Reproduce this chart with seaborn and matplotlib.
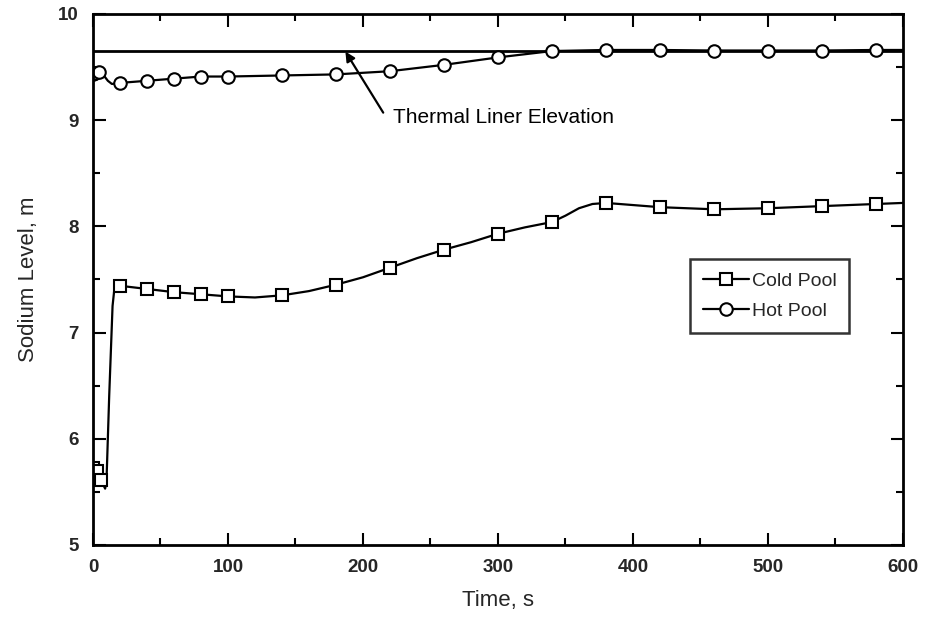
import matplotlib
matplotlib.use("Agg")
import matplotlib.pyplot as plt
import seaborn as sns
import pandas as pd
from matplotlib.lines import Line2D
from matplotlib.ticker import MultipleLocator

sns.set_theme(style="white")
plt.rcParams['font.family'] = ['Liberation Sans', 'DejaVu Sans']

# ---- data ----
cold_t = [0, 3, 6, 9, 10, 12, 14.5, 16, 20, 40, 60, 80, 100, 120, 140, 160, 180, 200,
          220, 240, 260, 280, 300, 320, 340, 350, 360, 370, 380, 400, 420, 440, 460,
          480, 500, 520, 540, 560, 580, 600]
cold_y = [5.72, 5.70, 5.61, 5.53, 5.60, 6.40, 7.25, 7.43, 7.44, 7.41, 7.38, 7.36, 7.34,
          7.33, 7.35, 7.39, 7.45, 7.52, 7.61, 7.70, 7.78, 7.85, 7.93, 7.99, 8.04, 8.10,
          8.17, 8.21, 8.22, 8.20, 8.18, 8.17, 8.16, 8.165, 8.17, 8.18, 8.19, 8.20, 8.21,
          8.22]
cold_marks = [0, 1, 2, 8, 9, 10, 11, 12, 14, 16, 18, 20, 22, 24, 28, 30, 32, 34, 36, 38]

hot_t = [0, 1.5, 4.5, 8, 11, 14, 20, 40, 60, 80, 100, 140, 180, 220, 260, 300, 320,
         340, 380, 420, 460, 500, 540, 580, 600]
hot_y = [9.43, 9.44, 9.45, 9.42, 9.37, 9.34, 9.35, 9.37, 9.39, 9.41, 9.41, 9.42, 9.43,
         9.46, 9.52, 9.59, 9.62, 9.65, 9.66, 9.66, 9.655, 9.655, 9.655, 9.66, 9.66]
hot_marks = [0, 1, 2, 6, 7, 8, 9, 10, 11, 12, 13, 14, 15, 17, 18, 19, 20, 21, 22, 23]

liner_t = [0, 600]
liner_y = [9.655, 9.655]

series_names = ["Cold Pool", "Hot Pool"]
annotation_text = "Thermal Liner Elevation"
arrow_head = (187, 9.645)
arrow_tail = (215, 9.07)
text_pos = (222, 9.02)

# ---- figure ----
fig = plt.figure(figsize=(9.28, 6.30), dpi=100)
ax = fig.add_axes([0.1002, 0.135, 0.8728, 0.843])

cold_df = pd.DataFrame({"t": cold_t, "y": cold_y})
hot_df = pd.DataFrame({"t": hot_t, "y": hot_y})
liner_df = pd.DataFrame({"t": liner_t, "y": liner_y})

sns.lineplot(data=liner_df, x="t", y="y", ax=ax, color="black", lw=2.0,
             estimator=None, sort=False, legend=False)
sns.lineplot(data=cold_df, x="t", y="y", ax=ax, color="black", lw=1.6,
             marker="s", markersize=8, markerfacecolor="white",
             markeredgecolor="black", markeredgewidth=1.5, markevery=cold_marks,
             estimator=None, sort=False, legend=False)
sns.lineplot(data=hot_df, x="t", y="y", ax=ax, color="black", lw=1.6,
             marker="o", markersize=9, markerfacecolor="white",
             markeredgecolor="black", markeredgewidth=1.5, markevery=hot_marks,
             estimator=None, sort=False, legend=False)

ax.annotate("", xy=arrow_head, xytext=arrow_tail,
            arrowprops=dict(arrowstyle="-|>", color="black", lw=1.6,
                            mutation_scale=14, shrinkA=0, shrinkB=0))
ax.text(text_pos[0], text_pos[1], annotation_text, fontsize=15,
        ha="left", va="center", color="black")

ax.set_xlim(0, 600)
ax.set_ylim(5, 10)
ax.xaxis.set_major_locator(MultipleLocator(100))
ax.xaxis.set_minor_locator(MultipleLocator(50))
ax.yaxis.set_major_locator(MultipleLocator(1))
ax.yaxis.set_minor_locator(MultipleLocator(0.5))
ax.tick_params(which="both", direction="in", top=True, right=True, bottom=True,
               left=True, color="black", width=1.5)
ax.tick_params(which="major", length=9, labelsize=13.5, pad=10)
ax.tick_params(which="minor", length=5)
for lab in ax.get_xticklabels() + ax.get_yticklabels():
    lab.set_fontweight("bold")
for sp in ax.spines.values():
    sp.set_color("black")
    sp.set_linewidth(2.0)

ax.set_xlabel("Time, s", fontsize=16, labelpad=10)
ax.set_ylabel("Sodium Level, m", fontsize=16, labelpad=14)

handles = [Line2D([], [], color="black", lw=1.6, marker="s", markersize=8,
                  markerfacecolor="white", markeredgewidth=1.5),
           Line2D([], [], color="black", lw=1.6, marker="o", markersize=9,
                  markerfacecolor="white", markeredgewidth=1.5)]
leg = ax.legend(handles, series_names, loc="lower right",
                bbox_to_anchor=(0.934, 0.40), frameon=True, fancybox=False,
                edgecolor="black", fontsize=14, handlelength=2.4,
                borderpad=0.65, labelspacing=0.65, handletextpad=0.15,
                borderaxespad=0)
leg.get_frame().set_linewidth(1.8)

fig.savefig("out.png", dpi=100, facecolor="white")
